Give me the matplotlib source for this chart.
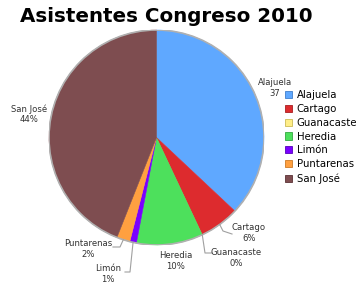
import matplotlib
matplotlib.use("Agg")
import matplotlib.pyplot as plt
from matplotlib.patches import Patch, Circle
import numpy as np

title = "Asistentes Congreso 2010"
categories = ["Alajuela", "Cartago", "Guanacaste", "Heredia", "Limón", "Puntarenas", "San José"]
values = [37, 6, 0, 10, 1, 2, 44]
label_texts = ["37", "6%", "0%", "10%", "1%", "2%", "44%"]
colors = ["#5FA8FF", "#DD2B2E", "#FFEE88", "#4DE05C", "#7A00FF", "#FFA040", "#7E4D50"]
edge_colors = ["#3F7FCC", "#A81E20", "#CCBB55", "#33A840", "#5500BB", "#CC7A25", "#5A3235"]

W, H = 360, 285
fig = plt.figure(figsize=(W / 100, H / 100), dpi=100)
fig.patch.set_facecolor("white")

cx, cy, r = 156.5, 137.5, 107.5
ax = fig.add_axes([(cx - r) / W, (H - cy - r) / H, 2 * r / W, 2 * r / H])
wedges, _ = ax.pie(values, colors=colors, startangle=90, counterclock=False,
                   radius=1, wedgeprops=dict(linewidth=0.4))
for w, c, v in zip(wedges, colors, values):
    w.set_edgecolor(c)
    if v == 0:
        w.set_linewidth(0)
ax.add_patch(Circle((0, 0), 1.0, fill=False, edgecolor="#B0B0B0", linewidth=1.2))
ax.set_xlim(-1, 1)
ax.set_ylim(-1, 1)
ax.set_aspect("equal")
ax.axis("off")

def px2d(px, py):
    return ((px - cx) / r, (cy - py) / r)

# label positions (pixel centers) and leader-line elbows
label_pos = {
    "Alajuela": (275, 88),
    "Cartago": (249, 233),
    "Guanacaste": (236, 258),
    "Heredia": (176, 261),
    "Limón": (108, 274),
    "Puntarenas": (88, 249),
    "San José": (29, 114),
}
leaders = {
    "Cartago": [(223, 231), (232, 234)],
    "Guanacaste": [(205, 253), (212, 253)],
    "Limón": [(130, 272), (125, 272)],
    "Puntarenas": [(120, 247), (113, 247)],
}

for i, (w, cat) in enumerate(zip(wedges, categories)):
    mid = np.deg2rad((w.theta1 + w.theta2) / 2)
    tx, ty = px2d(*label_pos[cat])
    ax.text(tx, ty, f"{cat}\n{label_texts[i]}", ha="center", va="center",
            fontsize=6.1, color="#333333", linespacing=1.15, clip_on=False)
    if cat in leaders:
        pts = [(np.cos(mid), np.sin(mid))] + [px2d(*p) for p in leaders[cat]]
        xs, ys = zip(*pts)
        ax.plot(xs, ys, color="#A0A0A0", linewidth=0.8, clip_on=False)

handles = [Patch(facecolor=c, edgecolor=e, linewidth=0.6) for c, e in zip(colors, edge_colors)]
fig.legend(handles, categories, loc="upper left", bbox_to_anchor=(285 / W, 1 - 90 / H),
           frameon=False, fontsize=7.3, handlelength=0.7, handleheight=0.7,
           handletextpad=0.45, labelspacing=0.38, borderpad=0, borderaxespad=0)

fig.text(20 / W, 1 - 16 / H, title, ha="left", va="center", fontsize=14.3,
         fontweight="bold", color="black")

fig.savefig("out.png", dpi=100, facecolor="white")
